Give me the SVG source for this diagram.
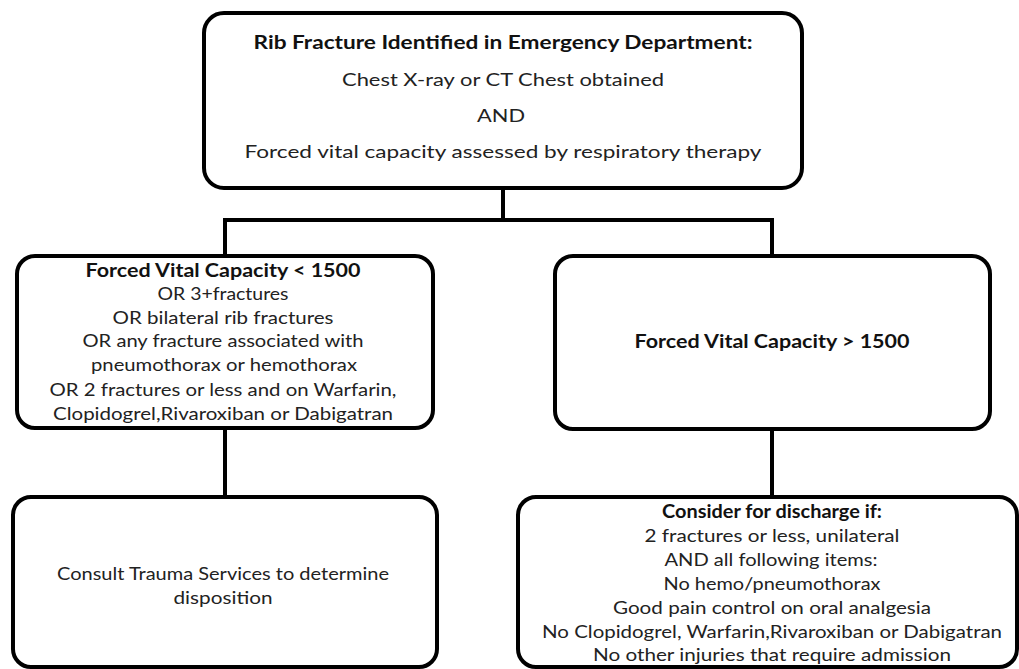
<svg xmlns="http://www.w3.org/2000/svg" width="1019" height="669" viewBox="0 0 1019 669">
<style>
.box{fill:#fff;stroke:#000;stroke-width:4}
.conn{fill:none;stroke:#000;stroke-width:4}
text{font-family:Lato,"Liberation Sans",sans-serif;font-size:17px;fill:#222;text-anchor:middle}
.b{font-weight:bold;font-size:18px;fill:#111}
</style>
<rect width="1019" height="669" fill="#fff"/>
<g id="connectors">
<path class="conn" d="M503 188V220M225 220H772M225 218V256M772 218V256M225 428V497M772 429V497"/>
</g>
<g id="node-top">
<rect class="box" x="204" y="13" width="598" height="175" rx="20"/>
<text class="b" x="503" y="49" textLength="499" lengthAdjust="spacingAndGlyphs">Rib Fracture Identified in Emergency Department:</text>
<text x="503" y="86" textLength="322" lengthAdjust="spacingAndGlyphs">Chest X-ray or CT Chest obtained</text>
<text x="501" y="122" textLength="48" lengthAdjust="spacingAndGlyphs">AND</text>
<text x="503" y="158" textLength="517" lengthAdjust="spacingAndGlyphs">Forced vital capacity assessed by respiratory therapy</text>
</g>
<g id="node-fvc-low">
<rect class="box" x="17" y="256" width="416" height="172" rx="18"/>
<text class="b" x="223" y="277" textLength="275" lengthAdjust="spacingAndGlyphs">Forced Vital Capacity &lt; 1500</text>
<text x="223" y="300" textLength="131" lengthAdjust="spacingAndGlyphs">OR 3+fractures</text>
<text x="223" y="324" textLength="221" lengthAdjust="spacingAndGlyphs">OR bilateral rib fractures</text>
<text x="223" y="347" textLength="281" lengthAdjust="spacingAndGlyphs">OR any fracture associated with</text>
<text x="224" y="371" textLength="266" lengthAdjust="spacingAndGlyphs">pneumothorax  or hemothorax</text>
<text x="223" y="396" textLength="347" lengthAdjust="spacingAndGlyphs">OR 2 fractures or less and on Warfarin,</text>
<text x="223" y="420" textLength="340" lengthAdjust="spacingAndGlyphs">Clopidogrel,Rivaroxiban or Dabigatran</text>
</g>
<g id="node-fvc-high">
<rect class="box" x="555" y="256" width="435" height="173" rx="18"/>
<text class="b" x="772" y="348" textLength="275" lengthAdjust="spacingAndGlyphs">Forced Vital Capacity &gt; 1500</text>
</g>
<g id="node-consult">
<rect class="box" x="13" y="497" width="424" height="170" rx="18"/>
<text x="223" y="580" textLength="332" lengthAdjust="spacingAndGlyphs">Consult Trauma Services to determine</text>
<text x="223" y="604" textLength="99" lengthAdjust="spacingAndGlyphs">disposition</text>
</g>
<g id="node-discharge">
<rect class="box" x="518" y="497" width="499" height="170" rx="18"/>
<text class="b" x="772" y="518" textLength="220" lengthAdjust="spacingAndGlyphs">Consider for discharge if:</text>
<text x="772" y="542" textLength="255" lengthAdjust="spacingAndGlyphs">2 fractures or less, unilateral</text>
<text x="771" y="566" textLength="213" lengthAdjust="spacingAndGlyphs">AND all following items:</text>
<text x="772" y="590" textLength="217" lengthAdjust="spacingAndGlyphs">No hemo/pneumothorax</text>
<text x="772" y="614" textLength="318" lengthAdjust="spacingAndGlyphs">Good pain control on oral analgesia</text>
<text x="772" y="638" textLength="460" lengthAdjust="spacingAndGlyphs">No Clopidogrel, Warfarin,Rivaroxiban or Dabigatran</text>
<text x="772" y="661" textLength="358" lengthAdjust="spacingAndGlyphs">No other injuries that require admission</text>
</g>
</svg>
